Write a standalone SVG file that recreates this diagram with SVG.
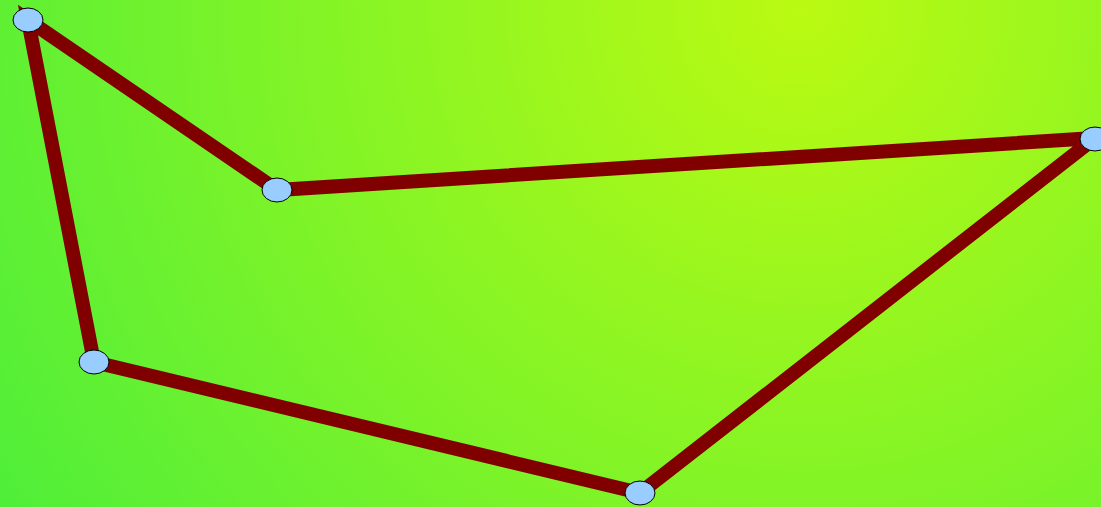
<svg xmlns="http://www.w3.org/2000/svg" width="1101" height="507" viewBox="0 0 1101 507">
<defs>
<radialGradient id="bg" gradientUnits="userSpaceOnUse" cx="800" cy="10" r="950">
<stop offset="0" stop-color="#bafa12"/>
<stop offset="1" stop-color="#4eee3a"/>
</radialGradient>
<style>
.edge{fill:none;stroke:#800000;stroke-width:14;stroke-linejoin:miter}
.node{fill:#99ccff;stroke:#000;stroke-width:1}
</style>
</defs>
<rect width="1101" height="507" fill="url(#bg)"/>
<g id="connectors">
<polygon class="edge" points="28,20 277,190 1095,138 640,493 94,362"/>
</g>
<g id="n1"><ellipse class="node" cx="28" cy="20" rx="15" ry="12"/></g>
<g id="n2"><ellipse class="node" cx="277" cy="190" rx="15" ry="12"/></g>
<g id="n3"><ellipse class="node" cx="1095" cy="139" rx="15" ry="12"/></g>
<g id="n4"><ellipse class="node" cx="640" cy="493" rx="15" ry="12"/></g>
<g id="n5"><ellipse class="node" cx="94" cy="362" rx="15" ry="12"/></g>
</svg>
